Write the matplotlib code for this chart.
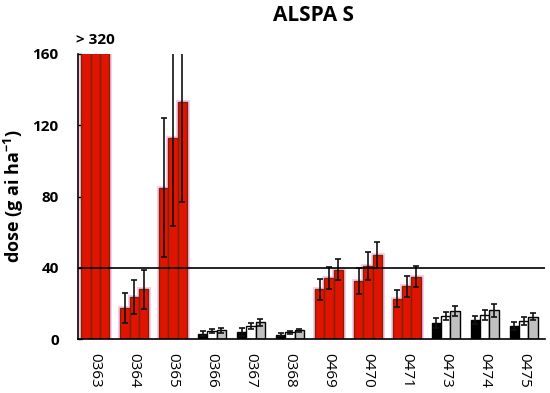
import matplotlib
matplotlib.use("Agg")
import matplotlib.pyplot as plt
import numpy as np

plt.rcParams['font.family'] = ['Open Sans', 'DejaVu Sans']
plt.rcParams['mathtext.fontset'] = 'custom'
plt.rcParams['mathtext.rm'] = 'Open Sans:bold'
plt.rcParams['mathtext.default'] = 'rm'

groups = ["0363", "0364", "0365", "0366", "0367", "0368", "0469", "0470", "0471", "0473", "0474", "0475"]
# three bars per group (dose); 0363 values are > 320
bar1 = [330, 17.4, 85, 3.0, 4.1, 2.6, 28, 32.8, 22.8, 9.2, 10.7, 7.3]
bar2 = [330, 23.6, 113, 4.5, 7.3, 3.8, 34.5, 41, 29.6, 13, 13.7, 10.3]
bar3 = [330, 28, 133, 5.0, 9.4, 4.9, 39, 47, 35, 15.7, 16.1, 12.5]
err1 = [0, 8.5, 39, 1.3, 2.3, 0.7, 6, 7.2, 5, 2.8, 2.3, 2.4]
err2 = [0, 9.5, 49.5, 1.3, 1.8, 0.8, 6.1, 7.7, 5.8, 2.4, 2.8, 2.2]
err3 = [0, 11, 56, 1.5, 2.0, 1.0, 6, 7.3, 6, 2.8, 3.4, 1.9]
red_groups = [True, True, True, False, False, False, True, True, True, False, False, False]
threshold = 40

RED = '#e01400'
REDEDGE = '#7a2600'
fig = plt.figure(figsize=(5.5, 3.93), dpi=100)
ax = fig.add_axes([0.142, 0.137, 0.849, 0.726])

x = np.arange(len(groups))
w = 0.24
for k, (vals, errs) in enumerate([(bar1, err1), (bar2, err2), (bar3, err3)]):
    xs = x + (k - 1) * w
    for i in range(len(groups)):
        if red_groups[i]:
            fc, ec = RED, REDEDGE
        else:
            fc = ['#000000', '#ffffff', '#c0c0c0'][k]
            ec = '#000000'
        if red_groups[i]:
            ax.bar(xs[i], vals[i], w, color='none', edgecolor='#f9c8ea', linewidth=3.5, zorder=1)
        ax.bar(xs[i], vals[i], w, color=fc, edgecolor=ec, linewidth=1.0, zorder=2)
        if errs[i] > 0:
            ax.errorbar(xs[i], vals[i], yerr=errs[i], fmt='none', ecolor='#111111',
                        elinewidth=1.2, capsize=2.5, capthick=1.2, zorder=3)

ax.axhline(threshold, color='black', lw=1.2, zorder=4)
ax.set_ylim(0, 160)
ax.set_xlim(-0.44, 11.55)
ax.set_yticks([0, 40, 80, 120, 160])
ax.set_yticklabels(['0', '40', '80', '120', '160'], fontsize=11, fontweight='bold')
ax.set_xticks(x)
ax.set_xticklabels(groups, rotation=-90, fontsize=11)
ax.tick_params(axis='x', length=0, pad=10)
ax.tick_params(axis='y', length=3, width=1, direction='in', pad=14)
for s in ['top', 'right']:
    ax.spines[s].set_visible(False)
ax.spines['left'].set_linewidth(1.2)
ax.spines['bottom'].set_linewidth(1.2)
ax.set_ylabel('dose (g ai ha$^{-1}$)', fontsize=13, fontweight='bold')
ax.yaxis.set_label_coords(-0.112, 0.5)
ax.text(0, 164, '> 320', ha='center', va='bottom', fontsize=11, fontweight='bold')
fig.text(0.57, 0.96, 'ALSPA S', ha='center', va='center', fontsize=15, fontweight='bold')

fig.savefig('out.png', dpi=100)
